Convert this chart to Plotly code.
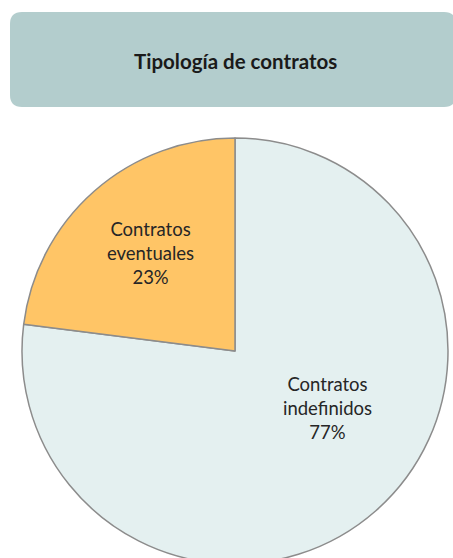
import plotly.graph_objects as go

# data
categorias = ["Contratos<br>indefinidos", "Contratos<br>eventuales"]
porcentajes = [77, 23]
colores = ["#e4f0f0", "#ffc566"]
titulo = "Tipología de contratos"

W, H = 453, 572

def px_x(x):
    return x / W

def px_y(y):
    return 1 - y / H

# pie box in pixels: centre (235, 351), radius 213
cx, cy, r = 235, 351, 213

fig = go.Figure(go.Pie(
    labels=categorias,
    values=porcentajes,
    sort=False,
    direction="clockwise",
    rotation=0,
    marker=dict(colors=colores, line=dict(color="#8c8c8c", width=1.5)),
    textinfo="none",
    hoverinfo="label+percent",
    showlegend=False,
    domain=dict(x=[px_x(cx - r), px_x(cx + r)], y=[px_y(cy + r), px_y(cy - r)]),
))

# rounded title box
x0, x1, y0, y1, rr = 10, 456, 12, 107, 12
path = (
    f"M {px_x(x0 + rr)} {px_y(y0)} L {px_x(x1 - rr)} {px_y(y0)} "
    f"Q {px_x(x1)} {px_y(y0)} {px_x(x1)} {px_y(y0 + rr)} "
    f"L {px_x(x1)} {px_y(y1 - rr)} Q {px_x(x1)} {px_y(y1)} {px_x(x1 - rr)} {px_y(y1)} "
    f"L {px_x(x0 + rr)} {px_y(y1)} Q {px_x(x0)} {px_y(y1)} {px_x(x0)} {px_y(y1 - rr)} "
    f"L {px_x(x0)} {px_y(y0 + rr)} Q {px_x(x0)} {px_y(y0)} {px_x(x0 + rr)} {px_y(y0)} Z"
)

annotations = [dict(text="<b>" + titulo + "</b>", x=px_x(235), y=px_y(61),
                    xref="paper", yref="paper", xanchor="center", yanchor="middle",
                    showarrow=False,
                    font=dict(family="Lato", size=20.5, color="#1a1a1a"))]

# slice labels, placed where the original chart puts them
label_pos = [(327, 408), (150, 253)]
total = sum(porcentajes)
for cat, val, (lx, ly) in zip(categorias, porcentajes, label_pos):
    annotations.append(dict(
        text=f"{cat}<br>{val / total * 100:.0f}%", x=px_x(lx), y=px_y(ly),
        xref="paper", yref="paper", xanchor="center", yanchor="middle",
        showarrow=False, align="center",
        font=dict(family="Lato", size=18.5, color="#262626"),
    ))

fig.update_layout(
    width=W,
    height=H,
    margin=dict(l=0, r=0, t=0, b=0),
    paper_bgcolor="white",
    shapes=[dict(type="path", xref="paper", yref="paper", path=path,
                 fillcolor="#b3cdcd", line=dict(width=0), layer="below")],
    annotations=annotations,
)

fig.write_html("out.html", config={"displayModeBar": False},
               post_script="document.body.style.overflow='hidden';document.body.style.margin='0';")
